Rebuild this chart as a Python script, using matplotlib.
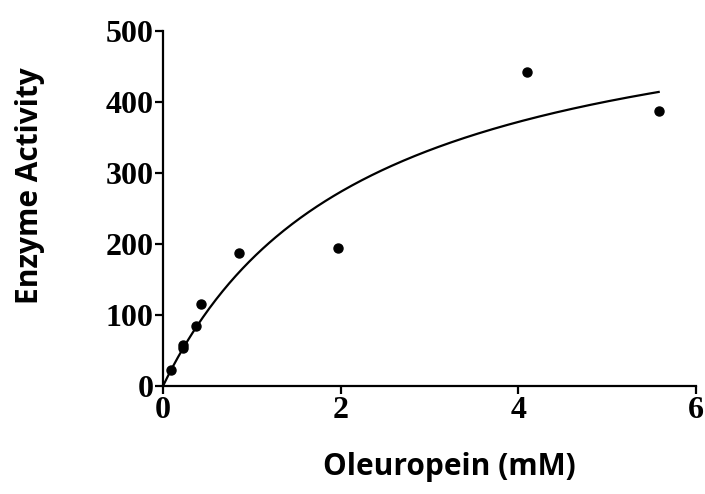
import numpy as np
import matplotlib
matplotlib.use("Agg")
import matplotlib.pyplot as plt

# Substrate concentration (mM) and measured enzyme activity
oleuropein_mM = [0.09, 0.22, 0.23, 0.37, 0.43, 0.85, 1.97, 4.10, 5.58]
activity = [22, 53, 58, 85, 116, 188, 194, 442, 387]

x_ticks = [0, 2, 4, 6]
y_ticks = [0, 100, 200, 300, 400, 500]


def fit_michaelis_menten(s, v):
    """Least-squares fit of v = Vmax*s/(Km+s) via a Km scan (Vmax solved in closed form)."""
    s = np.asarray(s, float)
    v = np.asarray(v, float)
    best = None
    for km in np.linspace(0.05, 20, 8000):
        f = s / (km + s)
        vmax = np.dot(f, v) / np.dot(f, f)
        err = np.sum((v - vmax * f) ** 2)
        if best is None or err < best[0]:
            best = (err, vmax, km)
    return best[1], best[2]


vmax, km = fit_michaelis_menten(oleuropein_mM, activity)
s_fit = np.linspace(0, max(oleuropein_mM), 300)
v_fit = vmax * s_fit / (km + s_fit)

fig = plt.figure(figsize=(7.05, 4.94), dpi=100)
ax = fig.add_axes([0.2312, 0.2186, 0.756, 0.7186])

ax.plot(s_fit, v_fit, color="black", lw=1.6, zorder=2)
ax.plot(oleuropein_mM, activity, "o", color="black", ms=6.5, zorder=3,
        clip_on=False)

ax.set_xlim(0, 6)
ax.set_ylim(0, 500)
ax.set_xticks(x_ticks)
ax.set_yticks(y_ticks)

for side in ("top", "right"):
    ax.spines[side].set_visible(False)
for side in ("left", "bottom"):
    ax.spines[side].set_linewidth(1.6)

ax.tick_params(direction="out", length=6, width=1.6, pad=1)
for lab in ax.get_xticklabels() + ax.get_yticklabels():
    lab.set_fontfamily("Liberation Serif")
    lab.set_fontweight("bold")
    lab.set_fontsize(23)

fig.text(0.043, 0.625, "Enzyme Activity", rotation=90, ha="center", va="center",
         fontfamily="Open Sans", fontweight="bold", fontsize=21.5)
fig.text(0.638, 0.055, "Oleuropein (mM)", ha="center", va="center",
         fontfamily="Open Sans", fontweight="bold", fontsize=21.5)

fig.savefig("out.png", dpi=100)
